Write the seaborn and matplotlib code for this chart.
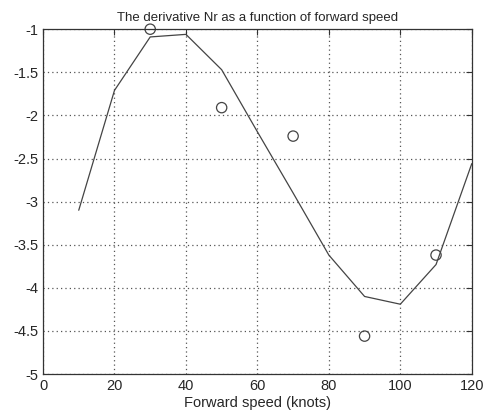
import matplotlib
matplotlib.use("Agg")
import matplotlib.pyplot as plt
import numpy as np
import pandas as pd
import seaborn as sns

# fitted curve
speed_fit = [10, 20, 30, 40, 50, 60, 70, 80, 90, 100, 110, 120]
nr_fit = [-3.10, -1.71, -1.09, -1.06, -1.47, -2.19, -2.90, -3.62, -4.10, -4.19, -3.73, -2.56]

# measured points
speed_meas = [30, 50, 70, 90, 110]
nr_meas = [-1.00, -1.91, -2.24, -4.56, -3.62]

xticks = [0, 20, 40, 60, 80, 100, 120]
yticks = [-5, -4.5, -4, -3.5, -3, -2.5, -2, -1.5, -1]
ytick_labels = ["-5", "-4.5", "-4", "-3.5", "-3", "-2.5", "-2", "-1.5", "-1"]

df_fit = pd.DataFrame({"speed": speed_fit, "nr": nr_fit})
df_meas = pd.DataFrame({"speed": speed_meas, "nr": nr_meas})

sns.set_style("white")
plt.rcParams["font.family"] = ["Liberation Sans", "DejaVu Sans"]

fig = plt.figure(figsize=(4.85, 4.17), dpi=100)
ax = fig.add_axes([0.0887, 0.103, 0.884, 0.827])

sns.lineplot(data=df_fit, x="speed", y="nr", ax=ax, color="#444444", linewidth=0.9)
sns.scatterplot(data=df_meas, x="speed", y="nr", ax=ax, marker="o", s=55,
                facecolor="none", edgecolor="#444444", linewidth=0.9, clip_on=False)

ax.set_xlim(0, 120)
ax.set_ylim(-5, -1)
ax.set_xticks(xticks)
ax.set_yticks(yticks)
ax.set_yticklabels(ytick_labels)
ax.grid(True, linestyle=(0, (1, 2.5)), color="#555555", linewidth=0.9)
ax.tick_params(direction="in", top=True, right=True, length=4, labelsize=10.5, width=0.8, color="#333333")
for s in ax.spines.values():
    s.set_color("#333333")
    s.set_linewidth(0.9)

ax.set_xlabel("Forward speed (knots)", fontsize=10.5, labelpad=2)
ax.set_ylabel("")
ax.set_title("The derivative Nr as a function of forward speed", fontsize=9.5, pad=6)

fig.savefig("out.png", dpi=100)
